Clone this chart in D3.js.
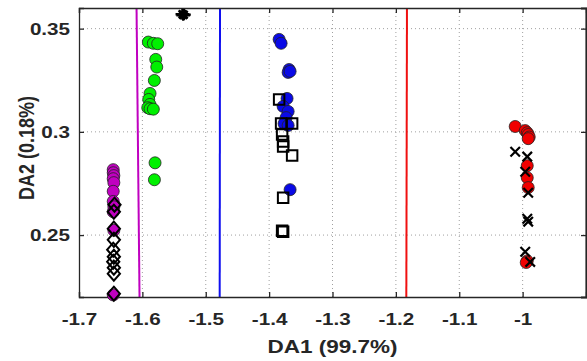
<!DOCTYPE html>
<html><head><meta charset="utf-8">
<script src="https://cdn.jsdelivr.net/npm/d3@7"></script>
<style>
html,body{margin:0;padding:0;background:#fff;}
svg{display:block;font-family:"Liberation Sans",Arial,sans-serif;}
</style></head>
<body><svg id="c" width="587" height="361"></svg>
<script>
// ---- data ----
const xTicks = [-1.7,-1.6,-1.5,-1.4,-1.3,-1.2,-1.1,-1];
const yTicks = [0.25,0.3,0.35];
const xLabel = "DA1 (99.7%)";
const yLabel = "DA2 (0.18%)";

// class 1: magenta circles
const magentaX = [-1.646,-1.646,-1.645,-1.646,-1.645,-1.646,-1.646,-1.645,-1.646,-1.645,-1.646];
const magentaY = [0.2817,0.2802,0.2788,0.2773,0.2754,0.2712,0.2663,0.2637,0.2613,0.2523,0.2210];
// black open diamonds
const diamondX = [-1.644,-1.645,-1.645,-1.645,-1.646,-1.645,-1.646,-1.645,-1.645,-1.645];
const diamondY = [0.2647,0.2613,0.2531,0.2477,0.2429,0.2395,0.2371,0.2342,0.2313,0.2216];
// class 2: green circles
const greenX = [-1.5906,-1.5827,-1.5758,-1.5789,-1.5773,-1.5811,-1.5879,-1.5900,-1.5880,-1.5915,-1.5879,-1.5827,-1.5800,-1.5810];
const greenY = [0.3435,0.3429,0.3427,0.3351,0.3314,0.3249,0.3186,0.3157,0.3133,0.3117,0.3112,0.3110,0.2850,0.2768];
// black stars (top)
const starX = [-1.5368,-1.5345,-1.5355];
const starY = [0.3570,0.3568,0.3565];
// class 3: blue circles
const blueX = [-1.3842,-1.3811,-1.3685,-1.3700,-1.3669,-1.3717,-1.3779,-1.3700,-1.3732,-1.3764,-1.3700,-1.3669];
const blueY = [0.3448,0.3429,0.3302,0.3288,0.3293,0.3162,0.3123,0.3099,0.3069,0.3040,0.3031,0.2720];
// black open squares
const squareX = [-1.3842,-1.3811,-1.3637,-1.3795,-1.3779,-1.3779,-1.3637,-1.3779,-1.3795,-1.3779];
const squareY = [0.3157,0.3040,0.3040,0.2987,0.2953,0.2929,0.2885,0.2681,0.2521,0.2516];
// class 4: red circles
const redX = [-1.0117,-0.9959,-0.9927,-0.9912,-0.9896,-0.9912,-0.9927,-0.9927,-0.9912,-0.9927,-0.9943];
const redY = [0.3026,0.3006,0.2996,0.2987,0.2975,0.2967,0.2836,0.2778,0.2730,0.2375,0.2367];
// black crosses
const crossX = [-1.0117,-0.9927,-0.9959,-0.9912,-0.9927,-0.9912,-0.9959,-0.9880];
const crossY = [0.2904,0.2880,0.2807,0.2705,0.2579,0.2565,0.2419,0.2370];

// boundary lines [x at top, x at bottom]
const boundaries = [
  {name:"m", color:"#c000c0", xTop:-1.6092, xBottom:-1.6045},
  {name:"b", color:"#1010f0", xTop:-1.4775, xBottom:-1.4780},
  {name:"r", color:"#f01010", xTop:-1.1825, xBottom:-1.1835}
];

// ---- layout ----
const L=79, T=8, R=586, B=297;
const SX=1.25; // horizontal stretch of the reference text
const svg = d3.select("#c");
const x = d3.scaleLinear().domain([-1.7,-0.9]).range([L,R]);
const y = d3.scaleLinear().domain([0.22,0.36]).range([B,T]);
const axCol="#262626";
const fmt = d => String(d);

// grid
const g = svg.append("g");
g.selectAll("line.gx").data(xTicks.slice(1)).join("line")
  .attr("x1",d=>x(d)).attr("x2",d=>x(d)).attr("y1",T).attr("y2",B)
  .attr("stroke","#a0a0a0").attr("stroke-width",1).attr("stroke-dasharray","1,3");
g.selectAll("line.gy").data(yTicks).join("line")
  .attr("x1",L).attr("x2",R).attr("y1",d=>y(d)).attr("y2",d=>y(d))
  .attr("stroke","#a0a0a0").attr("stroke-width",1).attr("stroke-dasharray","1,3");

// boundaries
svg.selectAll("line.bd").data(boundaries).join("line")
  .attr("x1",d=>x(d.xTop)).attr("x2",d=>x(d.xBottom))
  .attr("y1",y(0.36)).attr("y2",y(0.22))
  .attr("stroke",d=>d.color).attr("stroke-width",2);

// axes
const ax = svg.append("g").attr("transform",`translate(0,${B})`)
  .call(d3.axisBottom(x).tickValues(xTicks).tickSize(-5).tickFormat(fmt));
const ay = svg.append("g").attr("transform",`translate(${L},0)`)
  .call(d3.axisLeft(y).tickValues(yTicks).tickSize(-5).tickFormat(fmt));
const axt = svg.append("g").attr("transform",`translate(0,${T})`)
  .call(d3.axisTop(x).tickValues(xTicks).tickSize(-5).tickFormat(""));
const ayr = svg.append("g").attr("transform",`translate(${R},0)`)
  .call(d3.axisRight(y).tickValues(yTicks).tickSize(-5).tickFormat(""));
[ax,ay,axt,ayr].forEach(a=>{
  a.select(".domain").attr("stroke",axCol).attr("stroke-width",1.3);
  a.selectAll(".tick line").attr("stroke",axCol).attr("stroke-width",1.3);
});
ayr.select(".domain").attr("stroke-width",2.2);
// stretched tick labels
ax.selectAll(".tick text")
  .attr("y",null).attr("dy",null)
  .attr("transform",`translate(0,28) scale(${SX},1)`)
  .attr("fill",axCol).attr("font-size",16.5).attr("font-weight","bold")
  .attr("font-family","'Liberation Sans',Arial,sans-serif");
ay.selectAll(".tick text")
  .attr("x",null).attr("dy","0.34em")
  .attr("transform",`translate(-9,0) scale(${SX},1)`)
  .attr("fill",axCol).attr("font-size",16.5).attr("font-weight","bold")
  .attr("font-family","'Liberation Sans',Arial,sans-serif");

// axis labels
svg.append("text").attr("transform",`translate(${(L+R)/2},353) scale(${SX},1)`).attr("text-anchor","middle")
  .attr("font-size",18).attr("font-weight","bold").attr("fill",axCol).text(xLabel);
svg.append("text").attr("transform",`translate(34,148) scale(${SX},1) rotate(-90)`)
  .attr("text-anchor","middle").attr("font-size",18).attr("font-weight","bold").attr("fill",axCol).text(yLabel);

// markers
const zip=(a,b)=>a.map((v,i)=>[v,b[i]]);
function circles(xs,ys,fill){
  svg.append("g").selectAll("circle").data(zip(xs,ys)).join("circle")
    .attr("cx",d=>x(d[0])).attr("cy",d=>y(d[1])).attr("r",6)
    .attr("fill",fill).attr("stroke","#222").attr("stroke-width",0.8);
}
function symbols(xs,ys,type,size,sw){
  svg.append("g").selectAll("path").data(zip(xs,ys)).join("path")
    .attr("transform",d=>`translate(${x(d[0])},${y(d[1])})`)
    .attr("d",d3.symbol(type,size)).attr("fill","none").attr("stroke","#000").attr("stroke-width",sw);
}
const diamondSym = {draw(ctx,size){const r=Math.sqrt(size)/2;ctx.moveTo(0,-r*1.15);ctx.lineTo(r,0);ctx.lineTo(0,r*1.15);ctx.lineTo(-r,0);ctx.closePath();}};
const squareSym = {draw(ctx,size){const r=Math.sqrt(size)/2;ctx.rect(-r,-r,2*r,2*r);}};
const crossSym = {draw(ctx,size){const r=Math.sqrt(size)/2;ctx.moveTo(-r,-r);ctx.lineTo(r,r);ctx.moveTo(r,-r);ctx.lineTo(-r,r);}};
const starSym = {draw(ctx,size){const r=Math.sqrt(size)/2;ctx.moveTo(-r,0);ctx.lineTo(r,0);ctx.moveTo(0,-r*0.8);ctx.lineTo(0,r*0.8);
  const q=r*0.55;ctx.moveTo(-q,-q);ctx.lineTo(q,q);ctx.moveTo(q,-q);ctx.lineTo(-q,q);}};

circles(magentaX,magentaY,"#c000c0");
symbols(diamondX,diamondY,diamondSym,150,2);
circles(greenX,greenY,"#00f000");
symbols(starX,starY,starSym,190,2.4);
circles(blueX,blueY,"#0a0ae6");
symbols(squareX,squareY,squareSym,110,2);
circles(redX,redY,"#f00000");
symbols(crossX,crossY,crossSym,90,2.2);
</script></body></html>
